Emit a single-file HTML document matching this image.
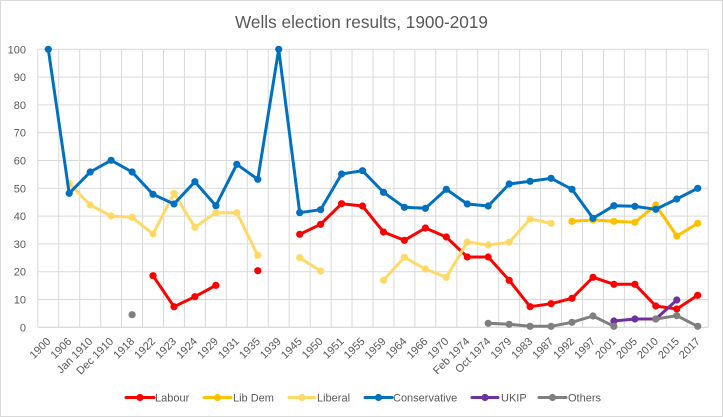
<!DOCTYPE html>
<html><head><meta charset="utf-8"><style>
html,body{margin:0;padding:0;background:#fff;}
svg{display:block;font-family:"Liberation Sans",Arial,sans-serif;}
</style></head><body>
<svg width="723" height="417" viewBox="0 0 723 417" xmlns="http://www.w3.org/2000/svg">
<defs>
<marker id="mR" viewBox="-4 -4 8 8" markerWidth="8" markerHeight="8" markerUnits="userSpaceOnUse"><circle r="3.6" fill="#FF0000"/></marker>
<marker id="mLD" viewBox="-4 -4 8 8" markerWidth="8" markerHeight="8" markerUnits="userSpaceOnUse"><circle r="3.6" fill="#FFC000"/></marker>
<marker id="mL" viewBox="-4 -4 8 8" markerWidth="8" markerHeight="8" markerUnits="userSpaceOnUse"><circle r="3.6" fill="#FFD966"/></marker>
<marker id="mC" viewBox="-4 -4 8 8" markerWidth="8" markerHeight="8" markerUnits="userSpaceOnUse"><circle r="3.6" fill="#0070C0"/></marker>
<marker id="mU" viewBox="-4 -4 8 8" markerWidth="8" markerHeight="8" markerUnits="userSpaceOnUse"><circle r="3.6" fill="#7030A0"/></marker>
<marker id="mO" viewBox="-4 -4 8 8" markerWidth="8" markerHeight="8" markerUnits="userSpaceOnUse"><circle r="3.6" fill="#7F7F7F"/></marker>
</defs>
<rect x="0.5" y="0.5" width="722" height="416" fill="#fff" stroke="#D9D9D9" stroke-width="1"/>
<text x="361.5" y="28" text-anchor="middle" font-size="17.5" fill="#595959" textLength="253" lengthAdjust="spacingAndGlyphs">Wells election results, 1900-2019</text>

<!-- gridlines -->
<path fill="none" stroke="#D9D9D9" stroke-width="1" d="
M37.8 49.3H708.2 M37.8 77.1H708.2 M37.8 104.9H708.2 M37.8 132.7H708.2 M37.8 160.5H708.2 M37.8 188.3H708.2 M37.8 216.1H708.2 M37.8 243.9H708.2 M37.8 271.7H708.2 M37.8 299.5H708.2
M37.8 49.3V327.3 M58.75 49.3V327.3 M79.7 49.3V327.3 M100.65 49.3V327.3 M121.6 49.3V327.3 M142.55 49.3V327.3 M163.5 49.3V327.3 M184.45 49.3V327.3 M205.4 49.3V327.3 M226.35 49.3V327.3 M247.3 49.3V327.3 M268.25 49.3V327.3 M289.2 49.3V327.3 M310.15 49.3V327.3 M331.1 49.3V327.3 M352.05 49.3V327.3 M373 49.3V327.3 M393.95 49.3V327.3 M414.9 49.3V327.3 M435.85 49.3V327.3 M456.8 49.3V327.3 M477.75 49.3V327.3 M498.7 49.3V327.3 M519.65 49.3V327.3 M540.6 49.3V327.3 M561.55 49.3V327.3 M582.5 49.3V327.3 M603.45 49.3V327.3 M624.4 49.3V327.3 M645.35 49.3V327.3 M666.3 49.3V327.3 M687.25 49.3V327.3 M708.2 49.3V327.3"/>
<path fill="none" stroke="#D0D0D0" stroke-width="1" d="M37.8 327.3H708.2"/>

<!-- y labels -->
<g font-size="11" fill="#595959" text-anchor="end">
<text x="26" y="53.3">100</text>
<text x="26" y="81.1">90</text>
<text x="26" y="108.9">80</text>
<text x="26" y="136.7">70</text>
<text x="26" y="164.5">60</text>
<text x="26" y="192.3">50</text>
<text x="26" y="220.1">40</text>
<text x="26" y="247.9">30</text>
<text x="26" y="275.7">20</text>
<text x="26" y="303.5">10</text>
<text x="26" y="331.3">0</text>
</g>

<!-- x labels -->
<g font-size="11" fill="#595959" text-anchor="end">
<text x="51.3" y="342" transform="rotate(-45 51.3 342)">1900</text>
<text x="72.2" y="342" transform="rotate(-45 72.2 342)">1906</text>
<text x="93.2" y="342" transform="rotate(-45 93.2 342)">Jan 1910</text>
<text x="114.1" y="342" transform="rotate(-45 114.1 342)">Dec 1910</text>
<text x="135.1" y="342" transform="rotate(-45 135.1 342)">1918</text>
<text x="156" y="342" transform="rotate(-45 156 342)">1922</text>
<text x="177" y="342" transform="rotate(-45 177 342)">1923</text>
<text x="197.9" y="342" transform="rotate(-45 197.9 342)">1924</text>
<text x="218.9" y="342" transform="rotate(-45 218.9 342)">1929</text>
<text x="239.8" y="342" transform="rotate(-45 239.8 342)">1931</text>
<text x="260.8" y="342" transform="rotate(-45 260.8 342)">1935</text>
<text x="281.7" y="342" transform="rotate(-45 281.7 342)">1939</text>
<text x="302.7" y="342" transform="rotate(-45 302.7 342)">1945</text>
<text x="323.6" y="342" transform="rotate(-45 323.6 342)">1950</text>
<text x="344.6" y="342" transform="rotate(-45 344.6 342)">1951</text>
<text x="365.5" y="342" transform="rotate(-45 365.5 342)">1955</text>
<text x="386.5" y="342" transform="rotate(-45 386.5 342)">1959</text>
<text x="407.4" y="342" transform="rotate(-45 407.4 342)">1964</text>
<text x="428.4" y="342" transform="rotate(-45 428.4 342)">1966</text>
<text x="449.3" y="342" transform="rotate(-45 449.3 342)">1970</text>
<text x="470.3" y="342" transform="rotate(-45 470.3 342)">Feb 1974</text>
<text x="491.2" y="342" transform="rotate(-45 491.2 342)">Oct 1974</text>
<text x="512.2" y="342" transform="rotate(-45 512.2 342)">1979</text>
<text x="533.1" y="342" transform="rotate(-45 533.1 342)">1983</text>
<text x="554.1" y="342" transform="rotate(-45 554.1 342)">1987</text>
<text x="575" y="342" transform="rotate(-45 575 342)">1992</text>
<text x="596" y="342" transform="rotate(-45 596 342)">1997</text>
<text x="616.9" y="342" transform="rotate(-45 616.9 342)">2001</text>
<text x="637.9" y="342" transform="rotate(-45 637.9 342)">2005</text>
<text x="658.8" y="342" transform="rotate(-45 658.8 342)">2010</text>
<text x="679.8" y="342" transform="rotate(-45 679.8 342)">2015</text>
<text x="700.7" y="342" transform="rotate(-45 700.7 342)">2017</text>
</g>

<g fill="none" stroke-width="3" stroke-linejoin="round" stroke-linecap="round">
<!-- Labour -->
<polyline stroke="#FF0000" marker-start="url(#mR)" marker-mid="url(#mR)" marker-end="url(#mR)" points="153,275.7 174,306.7 194.9,296.7 215.9,285.3"/>
<polyline stroke="#FF0000" marker-start="url(#mR)" marker-mid="url(#mR)" marker-end="url(#mR)" points="299.7,234.3 320.6,224.3 341.6,203.7 362.5,206 383.5,232 404.4,240.3 425.4,228 446.3,237 467.3,257 488.2,257 509.2,280.3 530.1,306.7 551.1,303.7 572,298.3 593,277.3 613.9,284.3 634.9,284.3 655.8,306 676.8,309 697.7,295.3"/>
<!-- Lib Dem -->
<polyline stroke="#FFC000" marker-start="url(#mLD)" marker-mid="url(#mLD)" marker-end="url(#mLD)" points="572,221.3 593,220 613.9,221.3 634.9,222.3 655.8,205 676.8,236 697.7,223.3"/>
<!-- Liberal -->
<polyline stroke="#FFD966" marker-start="url(#mL)" marker-mid="url(#mL)" marker-end="url(#mL)" points="69.2,183.3 90.2,205 111.1,216 132.1,217.3 153,234 174,193.3 194.9,227.3 215.9,212.7 236.8,212.7 257.8,255.3"/>
<polyline stroke="#FFD966" marker-start="url(#mL)" marker-mid="url(#mL)" marker-end="url(#mL)" points="299.7,257.7 320.6,271"/>
<polyline stroke="#FFD966" marker-start="url(#mL)" marker-mid="url(#mL)" marker-end="url(#mL)" points="383.5,280.3 404.4,257.3 425.4,269 446.3,277.3 467.3,242 488.2,245 509.2,242.3 530.1,219 551.1,223.3"/>
<!-- Conservative -->
<polyline stroke="#0070C0" marker-start="url(#mC)" marker-mid="url(#mC)" marker-end="url(#mC)" points="48.3,49.3 69.2,193.3 90.2,172 111.1,160.3 132.1,172 153,194.3 174,204 194.9,181.7 215.9,205.7 236.8,164.3 257.8,179.3 278.7,49.3 299.7,212.7 320.6,209.7 341.6,174 362.5,170.7 383.5,192.3 404.4,207.3 425.4,208.3 446.3,189.3 467.3,204 488.2,206 509.2,184 530.1,181.3 551.1,178.3 572,189.3 593,218.3 613.9,205.7 634.9,206.3 655.8,209.3 676.8,199 697.7,188.3"/>
<!-- UKIP -->
<polyline stroke="#7030A0" marker-start="url(#mU)" marker-mid="url(#mU)" marker-end="url(#mU)" points="613.9,321 634.9,319 655.8,319 676.8,300"/>
<!-- Others -->
<polyline stroke="#7F7F7F" marker-start="url(#mO)" marker-mid="url(#mO)" marker-end="url(#mO)" points="488.2,323.3 509.2,324.3 530.1,326.3 551.1,326.3 572,322.3 593,316 613.9,326.3"/>
<polyline stroke="#7F7F7F" marker-start="url(#mO)" marker-mid="url(#mO)" marker-end="url(#mO)" points="655.8,319 676.8,315.7 697.7,326.3"/>
</g>
<!-- isolated points -->
<circle cx="257.8" cy="270.7" r="3.6" fill="#FF0000"/>
<circle cx="132.1" cy="314.7" r="3.6" fill="#7F7F7F"/>

<!-- legend -->
<g stroke-width="3" stroke-linecap="round">
<line x1="126" y1="397.5" x2="154" y2="397.5" stroke="#FF0000"/>
<line x1="204" y1="397.5" x2="231" y2="397.5" stroke="#FFC000"/>
<line x1="289" y1="397.5" x2="315" y2="397.5" stroke="#FFD966"/>
<line x1="365" y1="397.5" x2="392" y2="397.5" stroke="#0070C0"/>
<line x1="472" y1="397.5" x2="498" y2="397.5" stroke="#7030A0"/>
<line x1="539" y1="397.5" x2="566" y2="397.5" stroke="#7F7F7F"/>
</g>
<circle cx="140" cy="397.5" r="3.6" fill="#FF0000"/>
<circle cx="217.5" cy="397.5" r="3.6" fill="#FFC000"/>
<circle cx="302" cy="397.5" r="3.6" fill="#FFD966"/>
<circle cx="378.5" cy="397.5" r="3.6" fill="#0070C0"/>
<circle cx="485" cy="397.5" r="3.6" fill="#7030A0"/>
<circle cx="552.5" cy="397.5" r="3.6" fill="#7F7F7F"/>
<g font-size="11" fill="#595959">
<text x="155" y="401.5">Labour</text>
<text x="233" y="401.5">Lib Dem</text>
<text x="317" y="401.5">Liberal</text>
<text x="393" y="401.5">Conservative</text>
<text x="501" y="401.5">UKIP</text>
<text x="568" y="401.5">Others</text>
</g>
</svg>
</body></html>
